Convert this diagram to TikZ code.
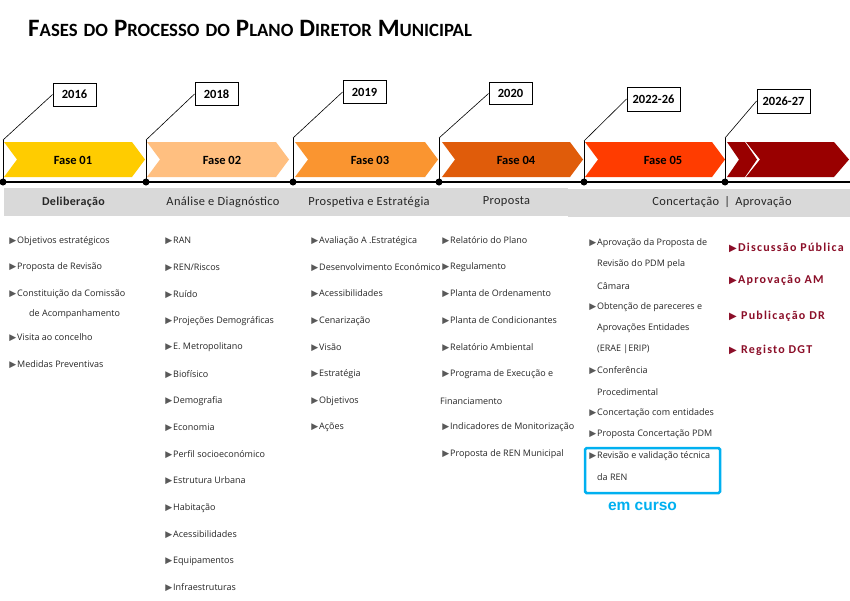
\documentclass[tikz,border=0pt]{standalone}
\usepackage{fontspec}
\setmainfont{Carlito}
\newfontfamily\listfont{Open Sans}
\newfontfamily\symfont{DejaVu Sans}
\newfontfamily\arialf{Liberation Sans}
\definecolor{cA}{HTML}{FFCC00}
\definecolor{cB}{HTML}{FFBF80}
\definecolor{cC}{HTML}{FA9530}
\definecolor{cD}{HTML}{E05C0A}
\definecolor{cE}{HTML}{FF3C00}
\definecolor{cF}{HTML}{990000}
\definecolor{band}{HTML}{D9D9D9}
\definecolor{redtxt}{HTML}{8B0E28}
\definecolor{cyanc}{HTML}{00B0F0}
\definecolor{bulc}{HTML}{595959}
\definecolor{txt}{HTML}{262626}
\newcommand\bul{\llap{\textcolor{bulc}{\symfont\fontsize{9}{9}\selectfont ▶}\hspace{0.8pt}}}
\newcommand\rbul{\llap{\textcolor{redtxt}{\symfont\fontsize{10}{10}\selectfont ▶}\hspace{1.5pt}}}
\newcommand\rbulw{\llap{\textcolor{redtxt}{\symfont\fontsize{10}{10}\selectfont ▶}\hspace{4.5pt}}}
\newcommand\scw[2]{{\fontsize{25}{28}\selectfont #1}{\fontsize{18.7}{21}\selectfont #2}}
\newcommand\tsp{\hspace{6pt}}
\newcommand\chevpath[2]{(#1,142) -- (#2-13,142) -- (#2,159.5) -- (#2-13,177) -- (#1,177) -- (#1+13,159.5) -- cycle}
\tikzset{
  lst/.style={font=\listfont\fontsize{9}{10}\selectfont, anchor=west, inner sep=0, text=txt},
  hdr/.style={font=\fontsize{12.4}{14}\selectfont\addfontfeatures{LetterSpace=3}, inner sep=0, text=txt},
  yearbox/.style={draw, line width=0.9pt, fill=white, font=\bfseries\fontsize{12.5}{14}\selectfont, inner sep=0},
  fase/.style={font=\bfseries\fontsize{12.5}{14}\selectfont, inner sep=0},
  rlist/.style={font=\bfseries\fontsize{12}{14}\selectfont\addfontfeatures{LetterSpace=10}, anchor=west, inner sep=0, text=redtxt},
  stem/.style={line width=1pt},
  diag/.style={line width=0.6pt},
  dot/.style={circle, fill=black, inner sep=0, minimum size=7pt}
}
\begin{document}
\begin{tikzpicture}[x=1pt,y=-1pt]
\useasboundingbox (0,0) rectangle (850,600);
\fill[white] (0,0) rectangle (850,600);
% title
\node[anchor=base west, inner sep=0] (title) at (28,36) {\bfseries\scw{F}{ASES}\tsp\scw{}{DO}\tsp\scw{P}{ROCESSO}\tsp\scw{}{DO}\tsp\scw{P}{LANO}\tsp\scw{D}{IRETOR}\tsp\scw{M}{UNICIPAL}};
% chevrons
\fill[cA] \chevpath{4}{145};
\fill[cB] \chevpath{147}{289};
\fill[cC] \chevpath{295}{438};
\fill[cD] \chevpath{442}{583};
\fill[cE] \chevpath{585}{725};
\fill[cF] (727,142) -- (745,142) -- (757,159.5) -- (745,177) -- (727,177) -- (739,159.5) -- cycle;
\fill[cF] (746,142) -- (834,142) -- (849,159.5) -- (834,177) -- (746,177) -- (760,159.5) -- cycle;
\node[fase] (f1) at (73,160) {Fase 01};
\node[fase] (f2) at (222,160) {Fase 02};
\node[fase] (f3) at (370,160) {Fase 03};
\node[fase] (f4) at (516,160) {Fase 04};
\node[fase] (f5) at (663,160) {Fase 05};
% gray band
\fill[band] (4,188) rectangle (568,216);
\fill[band] (568,188.5) rectangle (850,217);
\node[hdr, font=\bfseries\fontsize{12}{14}\selectfont\addfontfeatures{LetterSpace=3}] (h1) at (73.5,202) {Deliberação};
\node[hdr] (h2) at (223,202) {Análise e Diagnóstico};
\node[hdr] (h3) at (369,202) {Prospetiva e Estratégia};
\node[hdr] (h4) at (506.5,202) {Proposta};
\node[hdr] (h5) at (722,202) {Concertação \,|\, Aprovação};
% timeline
\coordinate (L0) at (3,182);
\coordinate (L1) at (850,182);
\draw[line width=1.3pt] (L0) -- (L1);
\coordinate (t1) at (3,140);   \coordinate (d1) at (3,182);
\coordinate (t2) at (146,140); \coordinate (d2) at (146,182);
\coordinate (t3) at (293,138); \coordinate (d3) at (293,182);
\coordinate (t4) at (439,138); \coordinate (d4) at (439,182);
\coordinate (t5) at (584,141); \coordinate (d5) at (584,182);
\coordinate (t6) at (725,138); \coordinate (d6) at (725,182);
\node[yearbox, minimum width=43pt, minimum height=23pt] (y1) at (74.5,94.5) {2016};
\node[yearbox, minimum width=43pt, minimum height=23pt] (y2) at (216.5,94) {2018};
\node[yearbox, minimum width=43pt, minimum height=23pt] (y3) at (364.5,92) {2019};
\node[yearbox, minimum width=43pt, minimum height=22pt] (y4) at (510.5,93.5) {2020};
\node[yearbox, minimum width=53pt, minimum height=24pt] (y5) at (653.5,99) {2022-26};
\node[yearbox, minimum width=53pt, minimum height=24pt] (y6) at (783.5,101) {2026-27};
\foreach \i in {1,...,6} {
  \draw[stem] (d\i) -- (t\i);
  \draw[diag] (t\i) -- (y\i.west);
  \node[dot] (dot\i) at (d\i) {};
}
% column 1
\node[lst] (a1) at (17,240.7) {\bul Objetivos estratégicos};
\node[lst] (a2) at (17,267.4) {\bul Proposta de Revisão};
\node[lst] (a3) at (17,294.1) {\bul Constituição da Comissão};
\node[lst] (a3b) at (29,314.3) {de Acompanhamento};
\node[lst] (a4) at (17,337.7) {\bul Visita ao concelho};
\node[lst] (a5) at (17,364.3) {\bul Medidas Preventivas};
% column 2
\foreach \t [count=\k from 0] in {RAN,REN/Riscos,Ruído,Projeções Demográficas,E. Metropolitano,Biofísico,Demografia,Economia,Perfil socioeconómico,Estrutura Urbana,Habitação,Acessibilidades,Equipamentos,Infraestruturas}
  \node[lst] (b\k) at (173,240.7+26.7*\k) {\bul \t};
% column 3
\foreach \t [count=\k from 0] in {Avaliação A .Estratégica,Desenvolvimento Económico,Acessibilidades,Cenarização,Visão,Estratégia,Objetivos,Ações}
  \node[lst] (c\k) at (319,240.7+26.7*\k) {\bul \t};
% column 4
\node[lst] (e0) at (450,240.7) {\bul Relatório do Plano};
\node[lst] (e1) at (450,267.4) {\bul Regulamento};
\node[lst] (e2) at (450,294.1) {\bul Planta de Ordenamento};
\node[lst] (e3) at (450,320.8) {\bul Planta de Condicionantes};
\node[lst] (e4) at (450,347.5) {\bul Relatório Ambiental};
\node[lst] (e5) at (450,374.2) {\bul Programa de Execução e};
\node[lst] (e5b) at (440,400.9) {Financiamento};
\node[lst] (e6) at (450,427.6) {\bul Indicadores de Monitorização};
\node[lst] (e7) at (450,454.3) {\bul Proposta de REN Municipal};
% column 5
\node[lst] (g0) at (597,243) {\bul Aprovação da Proposta de};
\node[lst] (g0b) at (597,264.3) {Revisão do PDM pela};
\node[lst] (g0c) at (597,285.6) {Câmara};
\node[lst] (g1) at (597,306.9) {\bul Obtenção de pareceres e};
\node[lst] (g1b) at (597,328.2) {Aprovações Entidades};
\node[lst] (g1c) at (597,349.5) {(ERAE |ERIP)};
\node[lst] (g2) at (597,370.8) {\bul Conferência};
\node[lst] (g2b) at (597,392.1) {Procedimental};
\node[lst] (g3) at (597,413.4) {\bul Concertação com entidades};
\node[lst] (g4) at (597,434.7) {\bul Proposta Concertação PDM};
\node[lst] (g5) at (597,456) {\bul Revisão e validação técnica};
\node[lst] (g5b) at (597,477.3) {da REN};
\node[draw=cyanc, line width=2.5pt, rounded corners=1.5pt, minimum width=135pt, minimum height=45pt, inner sep=0] (box) at (652.5,470.5) {};
\node[inner sep=0, text=cyanc, font=\arialf\bfseries\fontsize{15.5}{17}\selectfont] (curso) at (642.5,506) {em curso};
% column 6
\node[rlist] (r0) at (738,248) {\rbul Discussão Pública};
\node[rlist] (r1) at (738,280) {\rbul Aprovação AM};
\node[rlist] (r2) at (741,316) {\rbulw Publicação DR};
\node[rlist] (r3) at (741,350) {\rbulw Registo DGT};
\end{tikzpicture}
\end{document}
